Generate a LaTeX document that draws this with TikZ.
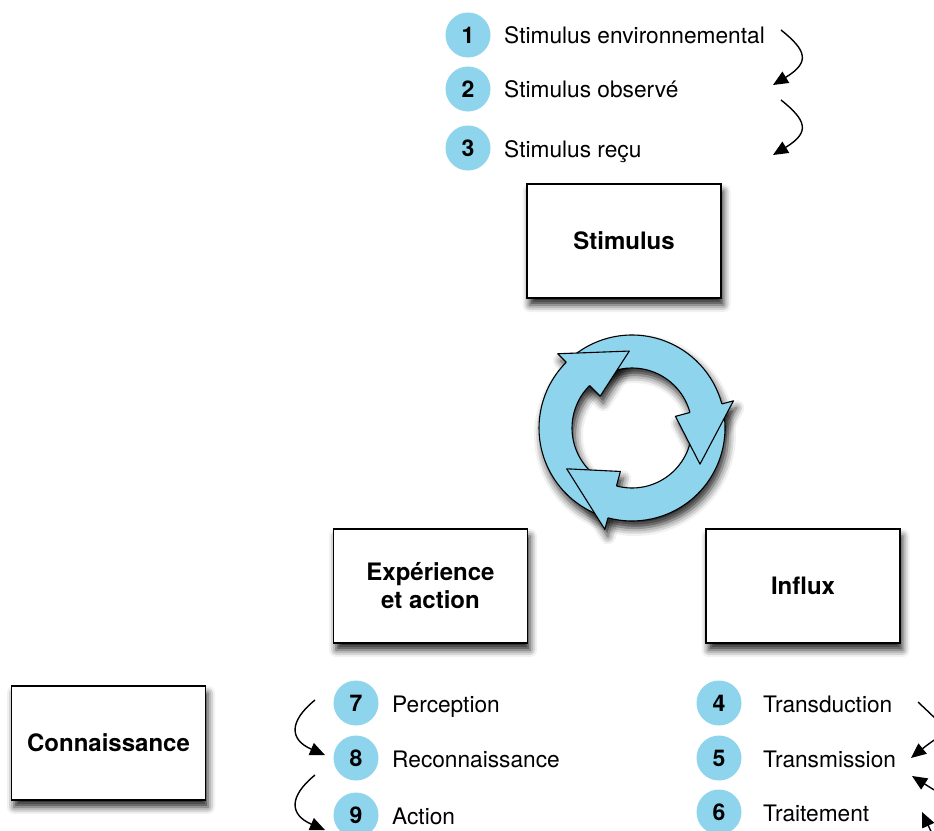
\documentclass[tikz,border=0pt]{standalone}
\usepackage{fontspec}
\setmainfont{TeX Gyre Heros}
\usetikzlibrary{shadows.blur,arrows.meta}
\definecolor{cyc}{HTML}{8DD4EC}
\begin{document}
\begin{tikzpicture}[x=1pt,y=-1pt,
  box/.style={draw=black, line width=1.2pt, fill=white, minimum width=194pt, minimum height=114pt,
    font=\fontsize{24}{28}\selectfont\bfseries, align=center,
    blur shadow={shadow xshift=2.5pt, shadow yshift=-7pt, shadow blur radius=7pt, shadow opacity=85}},
  num/.style={circle, fill=cyc, minimum size=45pt, inner sep=0pt, font=\fontsize{23}{24}\selectfont\bfseries},
  lab/.style={anchor=base west, inner sep=0pt, font=\fontsize{22.7}{25}\selectfont},
  crv/.style={line width=1.4pt, -{Triangle[length=15pt,width=13pt]}},
  ringpart/.style={fill=cyc, draw=black, line width=1.1pt, line join=round},
  ringshadow/.style={fill=cyc, blur shadow={shadow xshift=3pt, shadow yshift=-7pt, shadow blur radius=8pt, shadow opacity=85}}]
\useasboundingbox (0,0) rectangle (934,830);
\clip (0,0) rectangle (934,830);

% boxes
\node[box] (stim) at (624,241) {Stimulus};
\node[box] (exp) at (430.5,586) {Expérience\\et action};
\node[box] (infl) at (803,586) {Influx};
\node[box] (conn) at (108.5,743) {Connaissance};

% top list
\node[num] (n1) at (468,35) {1};
\node[num] (n2) at (468,89) {2};
\node[num] (n3) at (468,148) {3};
\node[lab] (l1) at (504,43) {Stimulus environnemental};
\node[lab] (l2) at (504,97) {Stimulus observé};
\node[lab] (l3) at (504,157) {Stimulus reçu};

% bottom middle list
\node[num] (n7) at (356,703) {7};
\node[num] (n8) at (356,758) {8};
\node[num] (n9) at (356,815) {9};
\node[lab] (l7) at (392,712) {Perception};
\node[lab] (l8) at (392,767) {Reconnaissance};
\node[lab] (l9) at (392,824) {Action};

% bottom right list
\node[num] (n4) at (719,703) {4};
\node[num] (n5) at (719,758) {5};
\node[num] (n6) at (719,812) {6};
\node[lab] (l4) at (763,712) {Transduction};
\node[lab] (l5) at (763,767) {Transmission};
\node[lab] (l6) at (763,821) {Traitement};

% curved arrows
\coordinate (a1s) at (781,30);  \coordinate (a1e) at (773,85);
\coordinate (a2s) at (781,100); \coordinate (a2e) at (773,155);
\draw[crv] (a1s) .. controls (806,50) and (811,62) .. (a1e);
\draw[crv] (a2s) .. controls (806,120) and (811,132) .. (a2e);

\coordinate (b1s) at (315,700); \coordinate (b1e) at (325,755);
\coordinate (b2s) at (315,775); \coordinate (b2e) at (325,830);
\draw[crv] (b1s) .. controls (288,722) and (290,740) .. (b1e);
\draw[crv] (b2s) .. controls (288,797) and (290,815) .. (b2e);

\coordinate (c1s) at (918,702); \coordinate (c1e) at (911,758);
\coordinate (c2s) at (975,795); \coordinate (c2e) at (912,776);
\coordinate (c3s) at (960,865); \coordinate (c3e) at (922,812);
\draw[crv] (c1s) .. controls (955,737) and (948,728) .. (c1e);
\draw[crv] (c2s) .. controls (950,800) .. (c2e);
\draw[crv] (c3s) .. controls (935,840) .. (c3e);

% cycle
\begin{scope}[shift={(632,428)}, y=1pt]
  % shadow layer
  \foreach \s/\e in {127/12, 7/-108, -113/-228} {
    \path[ringshadow] (\s:93) arc[start angle=\s, end angle=\e, radius=93] -- (\e:60)
      arc[start angle=\e, end angle=\s, radius=60] -- cycle;
  }
  \foreach \b in {135,15,-105} {
    \pgfmathsetmacro{\t}{\b-43}
    \path[ringshadow] (\b:60) -- (\b:45) -- (\t:77) -- (\b:105) -- (\b:93) -- cycle;
  }
  % bodies
  \foreach \s/\e in {127/12, 7/-108, -113/-228} {
    \path[ringpart] (\s:93) arc[start angle=\s, end angle=\e, radius=93] -- (\e:60)
      arc[start angle=\e, end angle=\s, radius=60] -- cycle;
  }
  % heads
  \foreach \b in {135,15,-105} {
    \pgfmathsetmacro{\t}{\b-43}
    \fill[cyc] (\b:60) -- (\b:45) -- (\t:77) -- (\b:105) -- (\b:93) -- cycle;
    \draw[line width=1.1pt, line join=round] (\b:60) -- (\b:45) -- (\t:77) -- (\b:105) -- (\b:93);
  }
\end{scope}
\end{tikzpicture}
\end{document}
